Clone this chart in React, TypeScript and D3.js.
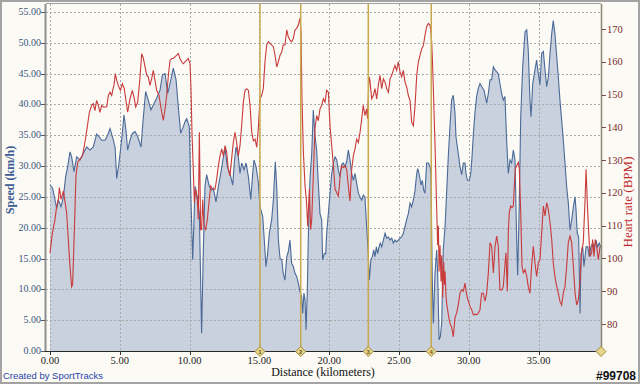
import React from "react";
import * as d3 from "d3";

const speedSeries: [number, number][] = [[0.00,26.9],[0.18,26.5],[0.36,24.5],[0.48,23.1],[0.60,24.5],[0.79,23.4],[0.96,25.0],[1.12,28.3],[1.27,29.9],[1.43,32.3],[1.55,31.5],[1.72,29.1],[1.91,31.5],[2.15,31.0],[2.39,32.1],[2.63,33.1],[2.87,32.6],[3.10,33.1],[3.34,35.2],[3.51,34.8],[3.70,34.2],[3.94,34.2],[4.13,35.0],[4.30,36.1],[4.54,34.2],[4.66,33.1],[4.78,28.0],[4.94,30.5],[5.13,34.2],[5.30,38.3],[5.44,35.9],[5.56,32.6],[5.73,34.2],[5.90,35.3],[6.09,35.6],[6.28,34.8],[6.52,33.1],[6.69,38.0],[6.85,42.1],[7.04,40.7],[7.23,39.1],[7.40,39.9],[7.64,41.0],[7.88,42.3],[8.05,44.8],[8.24,45.0],[8.43,41.8],[8.60,43.4],[8.83,45.9],[9.03,44.0],[9.19,39.6],[9.36,35.3],[9.55,36.4],[9.67,37.2],[9.79,37.7],[9.98,36.4],[10.10,24.5],[10.22,14.8],[10.30,20.2],[10.39,26.7],[10.55,25.0],[10.70,22.3],[10.86,2.9],[10.98,15.8],[11.10,26.7],[11.22,28.6],[11.41,26.7],[11.58,26.1],[11.70,26.4],[11.89,24.2],[12.06,26.7],[12.23,28.8],[12.42,31.5],[12.54,32.9],[12.70,29.9],[12.89,28.8],[13.09,26.9],[13.20,30.5],[13.32,33.1],[13.49,31.5],[13.61,28.8],[13.73,30.5],[13.90,29.4],[14.04,30.5],[14.21,28.3],[14.38,24.6],[14.52,28.8],[14.61,31.0],[14.76,29.9],[14.92,27.5],[15.04,23.4],[15.24,21.8],[15.35,18.0],[15.47,13.7],[15.59,15.8],[15.71,19.1],[15.88,21.3],[16.00,24.5],[16.14,30.7],[16.24,26.7],[16.36,18.0],[16.48,15.0],[16.60,14.8],[16.71,12.6],[16.83,11.5],[16.96,15.3],[17.07,16.1],[17.19,18.0],[17.31,14.2],[17.43,13.7],[17.55,12.6],[17.67,12.1],[17.79,11.0],[17.91,9.6],[18.03,8.8],[18.10,6.1],[18.19,9.4],[18.27,8.3],[18.34,3.4],[18.43,9.4],[18.50,18.0],[18.62,27.7],[18.75,32.1],[18.86,39.1],[18.98,35.0],[19.10,32.6],[19.22,27.2],[19.34,22.3],[19.46,21.3],[19.53,14.8],[19.65,15.8],[19.75,15.8],[19.82,19.1],[19.94,22.3],[20.06,25.6],[20.18,28.8],[20.30,30.5],[20.42,31.5],[20.54,31.0],[20.65,29.4],[20.77,28.3],[20.89,30.2],[21.01,30.5],[21.13,29.9],[21.25,30.7],[21.37,32.6],[21.49,31.0],[21.61,28.8],[21.73,27.7],[21.85,28.8],[21.97,27.2],[22.09,25.6],[22.21,25.0],[22.33,24.5],[22.44,25.3],[22.56,25.0],[22.68,20.2],[22.80,15.8],[22.87,11.5],[22.99,14.8],[23.09,15.3],[23.19,16.4],[23.28,15.3],[23.38,16.9],[23.47,15.8],[23.57,16.9],[23.66,17.5],[23.76,16.9],[23.88,18.0],[24.00,19.1],[24.12,18.3],[24.24,18.5],[24.36,18.0],[24.48,18.3],[24.59,17.5],[24.71,18.0],[24.83,17.7],[24.95,18.0],[25.07,18.3],[25.19,18.5],[25.31,19.1],[25.43,20.2],[25.55,21.3],[25.67,22.3],[25.79,24.0],[25.91,23.4],[26.03,24.5],[26.15,26.1],[26.27,28.8],[26.34,29.6],[26.43,28.8],[26.58,26.9],[26.67,27.7],[26.77,26.1],[26.86,25.6],[26.98,30.5],[27.10,30.5],[27.22,29.9],[27.29,28.8],[27.38,12.0],[27.46,4.5],[27.58,12.6],[27.70,16.4],[27.77,12.6],[27.87,1.8],[27.96,2.3],[28.06,4.5],[28.17,16.4],[28.30,20.2],[28.42,26.1],[28.53,31.5],[28.65,36.4],[28.77,40.7],[28.89,41.5],[29.01,38.6],[29.08,34.8],[29.18,33.1],[29.28,31.5],[29.37,29.9],[29.49,28.6],[29.61,30.5],[29.73,30.5],[29.80,28.8],[29.90,27.7],[30.04,27.7],[30.14,28.8],[30.23,31.5],[30.33,35.3],[30.44,38.6],[30.56,41.3],[30.68,42.6],[30.80,43.4],[30.92,42.9],[31.09,42.3],[31.28,40.2],[31.40,41.8],[31.52,44.0],[31.64,44.0],[31.76,46.1],[31.88,45.6],[32.00,45.3],[32.11,45.0],[32.23,43.4],[32.35,41.8],[32.47,40.7],[32.59,41.3],[32.71,34.2],[32.83,28.8],[32.95,31.0],[33.07,30.5],[33.19,32.6],[33.31,31.0],[33.43,18.0],[33.50,12.3],[33.62,24.5],[33.72,38.0],[33.86,46.1],[34.03,51.8],[34.15,52.1],[34.26,48.8],[34.38,40.7],[34.46,38.0],[34.58,43.4],[34.74,45.6],[34.86,47.2],[34.98,45.0],[35.10,43.2],[35.22,48.3],[35.34,48.6],[35.46,45.6],[35.58,42.9],[35.70,44.5],[35.82,48.3],[35.94,51.5],[36.05,53.6],[36.17,51.5],[36.30,47.7],[36.41,44.5],[36.53,40.7],[36.65,37.5],[36.77,34.2],[36.89,30.5],[37.01,26.7],[37.13,24.0],[37.25,19.6],[37.37,21.3],[37.49,23.4],[37.61,25.0],[37.68,22.9],[37.77,19.1],[37.87,18.5],[37.97,6.1],[38.04,15.8],[38.16,16.9],[38.25,13.7],[38.40,16.9],[38.52,16.9],[38.63,15.3],[38.75,16.9],[38.87,17.5],[38.99,16.7],[39.11,18.0],[39.23,16.9],[39.35,17.5],[39.47,16.8]];

const heartRateSeries: [number, number][] = [[0.00,101.7],[0.17,107.8],[0.36,111.9],[0.48,116.0],[0.60,118.0],[0.67,121.6],[0.79,118.0],[0.96,120.6],[1.07,117.5],[1.19,114.0],[1.31,105.8],[1.43,97.6],[1.55,91.4],[1.62,92.0],[1.74,107.8],[1.86,125.2],[1.98,129.3],[2.15,130.3],[2.32,131.3],[2.46,134.4],[2.58,137.5],[2.70,141.0],[2.82,144.6],[2.99,146.7],[3.10,147.2],[3.22,145.1],[3.34,148.2],[3.46,146.7],[3.58,144.6],[3.70,146.7],[3.82,146.2],[3.94,146.2],[4.06,146.2],[4.18,149.7],[4.30,150.7],[4.42,149.7],[4.49,151.3],[4.58,152.8],[4.68,156.4],[4.78,154.3],[4.89,152.8],[5.04,151.3],[5.18,153.3],[5.32,151.8],[5.44,148.2],[5.56,144.6],[5.73,148.7],[5.90,151.3],[6.04,148.7],[6.14,146.2],[6.28,147.7],[6.42,153.8],[6.57,162.5],[6.69,161.0],[6.81,158.4],[6.93,155.9],[7.04,155.4],[7.16,152.8],[7.28,154.8],[7.40,157.4],[7.52,154.3],[7.64,151.3],[7.81,149.7],[8.00,144.6],[8.12,142.1],[8.24,145.6],[8.36,149.7],[8.48,155.9],[8.60,160.5],[8.72,161.0],[8.83,161.0],[8.95,161.5],[9.08,162.0],[9.19,162.5],[9.31,161.0],[9.43,160.0],[9.55,159.4],[9.67,160.0],[9.79,160.5],[9.91,161.0],[10.03,159.4],[10.10,151.8],[10.17,138.5],[10.27,126.2],[10.34,117.0],[10.43,121.1],[10.55,118.0],[10.62,111.9],[10.70,138.5],[10.79,108.8],[10.86,108.8],[10.94,118.0],[11.03,109.8],[11.15,108.8],[11.27,111.9],[11.41,118.0],[11.51,122.1],[11.65,121.1],[11.82,121.1],[11.94,124.2],[12.06,128.3],[12.18,131.3],[12.30,133.4],[12.42,131.3],[12.54,134.4],[12.66,132.4],[12.77,127.2],[12.89,125.2],[13.01,130.3],[13.13,135.4],[13.25,138.5],[13.37,135.4],[13.49,131.3],[13.61,134.4],[13.73,140.5],[13.85,147.7],[13.97,151.3],[14.09,151.8],[14.21,151.3],[14.33,146.7],[14.45,138.5],[14.57,135.9],[14.69,136.4],[14.81,133.9],[14.92,139.5],[15.04,148.7],[15.16,149.7],[15.28,151.8],[15.40,160.0],[15.52,165.1],[15.64,166.1],[15.76,165.6],[15.88,165.1],[16.00,164.6],[16.12,162.0],[16.24,158.4],[16.36,160.0],[16.48,162.0],[16.60,163.0],[16.71,165.1],[16.83,165.1],[16.96,169.7],[17.07,167.6],[17.19,166.6],[17.31,166.1],[17.43,167.1],[17.55,169.7],[17.67,170.2],[17.79,171.2],[17.91,173.3],[17.98,169.2],[18.05,148.7],[18.15,132.4],[18.27,122.1],[18.38,117.0],[18.46,109.8],[18.58,121.1],[18.67,108.8],[18.75,112.0],[18.86,125.0],[18.98,139.5],[19.10,143.6],[19.22,142.0],[19.34,145.6],[19.46,146.7],[19.58,148.7],[19.70,147.7],[19.82,151.3],[19.94,150.7],[20.06,140.5],[20.18,134.4],[20.30,128.3],[20.42,121.1],[20.54,120.1],[20.65,119.0],[20.73,122.1],[20.80,126.2],[20.89,128.3],[21.01,127.7],[21.13,128.3],[21.25,127.2],[21.37,122.1],[21.49,117.5],[21.61,127.2],[21.73,131.3],[21.85,133.4],[21.97,136.4],[22.09,135.4],[22.21,138.5],[22.33,142.6],[22.44,146.7],[22.56,143.6],[22.68,145.6],[22.75,142.6],[22.85,155.4],[22.92,154.3],[23.04,148.7],[23.16,149.7],[23.28,151.8],[23.40,148.7],[23.52,152.8],[23.64,155.9],[23.76,151.8],[23.88,154.8],[24.00,153.8],[24.12,151.8],[24.24,150.7],[24.36,154.8],[24.48,155.9],[24.59,157.4],[24.71,158.9],[24.83,157.4],[24.95,160.0],[25.07,156.9],[25.19,155.4],[25.31,157.4],[25.43,153.8],[25.55,152.3],[25.67,149.7],[25.79,148.2],[25.91,141.5],[26.03,140.5],[26.15,146.7],[26.27,155.9],[26.39,160.0],[26.51,162.0],[26.63,164.0],[26.75,165.0],[26.86,168.1],[26.98,170.7],[27.10,171.7],[27.22,171.2],[27.29,169.0],[27.34,166.0],[27.40,160.0],[27.46,152.0],[27.52,143.0],[27.58,135.0],[27.64,125.0],[27.70,115.0],[27.77,104.0],[27.82,110.0],[27.87,96.0],[27.94,104.0],[28.01,93.0],[28.06,101.0],[28.13,88.0],[28.20,99.0],[28.26,92.0],[28.30,96.0],[28.36,89.0],[28.42,86.0],[28.53,83.0],[28.65,80.2],[28.77,79.0],[28.89,76.1],[29.01,82.0],[29.13,83.3],[29.25,86.0],[29.37,89.4],[29.49,90.5],[29.61,90.0],[29.73,92.5],[29.80,90.0],[29.90,88.0],[29.97,87.0],[30.09,85.3],[30.21,84.3],[30.33,82.8],[30.44,83.0],[30.56,82.8],[30.68,83.3],[30.80,84.3],[30.92,89.4],[31.04,89.4],[31.16,87.0],[31.28,89.4],[31.40,95.6],[31.52,104.8],[31.64,103.7],[31.76,95.6],[31.88,103.7],[32.00,106.8],[32.11,103.7],[32.23,90.4],[32.35,90.4],[32.47,91.4],[32.59,98.0],[32.66,101.7],[32.76,90.0],[32.83,108.0],[32.90,114.0],[33.00,116.0],[33.09,115.5],[33.19,116.0],[33.26,122.1],[33.33,127.2],[33.43,128.3],[33.55,129.3],[33.62,127.2],[33.72,114.0],[33.81,97.6],[33.91,95.6],[34.03,96.6],[34.15,94.5],[34.26,91.4],[34.38,89.4],[34.50,97.6],[34.62,103.7],[34.74,98.6],[34.86,94.5],[34.98,98.6],[35.10,99.6],[35.22,107.8],[35.34,116.0],[35.46,113.0],[35.58,117.0],[35.70,114.9],[35.82,110.9],[35.94,105.8],[36.05,98.6],[36.17,94.5],[36.30,91.4],[36.41,89.4],[36.53,86.9],[36.65,85.8],[36.77,89.4],[36.89,91.4],[37.01,97.6],[37.13,105.0],[37.25,106.8],[37.37,104.8],[37.49,97.6],[37.61,89.4],[37.73,85.8],[37.85,87.4],[37.97,93.5],[38.09,102.7],[38.20,104.8],[38.32,117.0],[38.40,127.2],[38.49,117.0],[38.59,107.8],[38.68,100.6],[38.80,101.7],[38.87,105.8],[38.97,100.6],[39.06,105.8],[39.16,103.7],[39.28,99.6],[39.40,103.7]];

const lapDistances = [15.04, 17.96, 22.8, 27.31];
const lapLabels = ["1", "2", "3", "4"];
const totalDistance = 39.47;
const distanceTicks = [0, 5, 10, 15, 20, 25, 30, 35];
const speedTicks = [0, 5, 10, 15, 20, 25, 30, 35, 40, 45, 50, 55];
const hrTicks = [80, 90, 100, 110, 120, 130, 140, 150, 160, 170];

const W = 640, H = 384;
const plotL = 46, plotR = 601, plotT = 4, plotB = 351;

export default function App() {
  const x = d3.scaleLinear().domain([0, totalDistance]).range([50, plotR]);
  const yS = d3.scaleLinear().domain([0, 55]).range([351, 12]);
  const yH = d3.scaleLinear().domain([80, 170]).range([324, 29]);

  const area = d3.area<[number, number]>().x(d => x(d[0])).y0(yS(0)).y1(d => yS(d[1]));
  const speedLine = d3.line<[number, number]>().x(d => x(d[0])).y(d => yS(d[1]));
  const hrLine = d3.line<[number, number]>().x(d => x(d[0])).y(d => yH(d[1]));

  const serif = "'Liberation Serif', 'Times New Roman', serif";
  const sans = "'Liberation Sans', Arial, sans-serif";

  return (
    <svg width={W} height={H} style={{ position: "absolute", left: 0, top: 0 }}>
      <defs>
        <clipPath id="plotclip">
          <rect x={plotL} y={plotT} width={plotR - plotL} height={plotB - plotT} />
        </clipPath>
      </defs>
      <rect x={0} y={0} width={W} height={H} fill="#fbfaf5" />
      <rect x={1} y={1} width={W - 2} height={H - 2} fill="none" stroke="#a3a3a3" strokeWidth={2} />

      <g clipPath="url(#plotclip)">
        <path d={area(speedSeries) || ""} fill="#c9d0de" />
        {speedTicks.map(t => (
          <line key={"gs" + t} x1={plotL} x2={plotR} y1={Math.round(yS(t)) + 0.5} y2={Math.round(yS(t)) + 0.5}
            stroke="#a9a9a9" strokeDasharray="2,2" />
        ))}
        {distanceTicks.map(t => (
          <line key={"gx" + t} x1={Math.round(x(t)) + 0.5} x2={Math.round(x(t)) + 0.5} y1={plotT} y2={plotB}
            stroke="#a9a9a9" strokeDasharray="2,2" />
        ))}
        <path d={speedLine(speedSeries) || ""} fill="none" stroke="#4b6a98" strokeWidth={1.1} />
        <path d={hrLine(heartRateSeries) || ""} fill="none" stroke="#c93b3b" strokeWidth={1.1} />
        {lapDistances.map(d => (
          <line key={"lap" + d} x1={x(d)} x2={x(d)} y1={plotT} y2={plotB} stroke="#c9a84e" strokeWidth={1.5} />
        ))}
      </g>

      {/* axes */}
      <line x1={plotL} x2={plotR} y1={plotT - 0.5} y2={plotT - 0.5} stroke="#a0a0a0" strokeWidth={1} />
      <line x1={plotL - 0.5} x2={plotL - 0.5} y1={plotT} y2={plotB + 1} stroke="#8e8e8e" strokeWidth={2} />
      <line x1={plotR + 0.5} x2={plotR + 0.5} y1={plotT} y2={plotB + 1} stroke="#8c8870" strokeWidth={1.5} />
      <line x1={plotL - 4} x2={plotR + 1} y1={plotB + 0.5} y2={plotB + 0.5} stroke="#2a2a2a" strokeWidth={1} />

      {speedTicks.map(t => (
        <g key={"ls" + t}>
          <line x1={plotL - 5} x2={plotL - 1} y1={Math.round(yS(t)) + 0.5} y2={Math.round(yS(t)) + 0.5} stroke="#555" />
          <text x={plotL - 5} y={yS(t) + 3} textAnchor="end" fontFamily={serif} fontSize={10} fill="#3b5580">
            {t.toFixed(2)}
          </text>
        </g>
      ))}
      {hrTicks.map(t => (
        <g key={"lh" + t}>
          <line x1={plotR + 1} x2={plotR + 5} y1={Math.round(yH(t)) + 0.5} y2={Math.round(yH(t)) + 0.5} stroke="#7a5050" />
          <text x={plotR + 6} y={yH(t) + 3.5} textAnchor="start" fontFamily={serif} fontSize={10.5} fill="#7a2e2e">
            {t}
          </text>
        </g>
      ))}
      {distanceTicks.map(t => (
        <g key={"lx" + t}>
          <line x1={Math.round(x(t)) + 0.5} x2={Math.round(x(t)) + 0.5} y1={plotB} y2={plotB + 4} stroke="#333" />
          <text x={x(t)} y={plotB + 13} textAnchor="middle" fontFamily={serif} fontSize={10.5} fill="#222">
            {t.toFixed(2)}
          </text>
        </g>
      ))}

      {lapDistances.map((d, i) => (
        <g key={"dm" + d} transform={`translate(${x(d)},${plotB + 0.5})`}>
          <path d="M0,-5L5,0L0,5L-5,0Z" fill="#e6d68c" stroke="#a98a3a" strokeWidth={1} />
          <text x={0} y={2.2} textAnchor="middle" fontFamily={sans} fontSize={6} fontWeight="bold" fill="#6b5520">
            {lapLabels[i]}
          </text>
        </g>
      ))}
      <g transform={`translate(${x(totalDistance)},${plotB + 0.5})`}>
        <path d="M0,-5L5,0L0,5L-5,0Z" fill="#e6d68c" stroke="#a98a3a" strokeWidth={1} />
      </g>

      <text transform={`translate(14,180) rotate(-90)`} textAnchor="middle" fontFamily={serif} fontSize={12}
        fontWeight="bold" fill="#3d5d93">Speed (km/h)</text>
      <text transform={`translate(632,202) rotate(-90)`} textAnchor="middle" fontFamily={serif} fontSize={13}
        fill="#c0282a">Heart rate (BPM)</text>
      <text x={323} y={376} textAnchor="middle" fontFamily={serif} fontSize={12} fill="#111">Distance (kilometers)</text>
      <text x={3} y={379} fontFamily={sans} fontSize={9.5} fill="#2844a8">Created by SportTracks</text>
      <text x={636} y={380} textAnchor="end" fontFamily={sans} fontSize={12} fontWeight="bold" fill="#111"
        stroke="#ffffff" strokeWidth={0.6} style={{ paintOrder: "stroke" }}>#99708</text>
    </svg>
  );
}
